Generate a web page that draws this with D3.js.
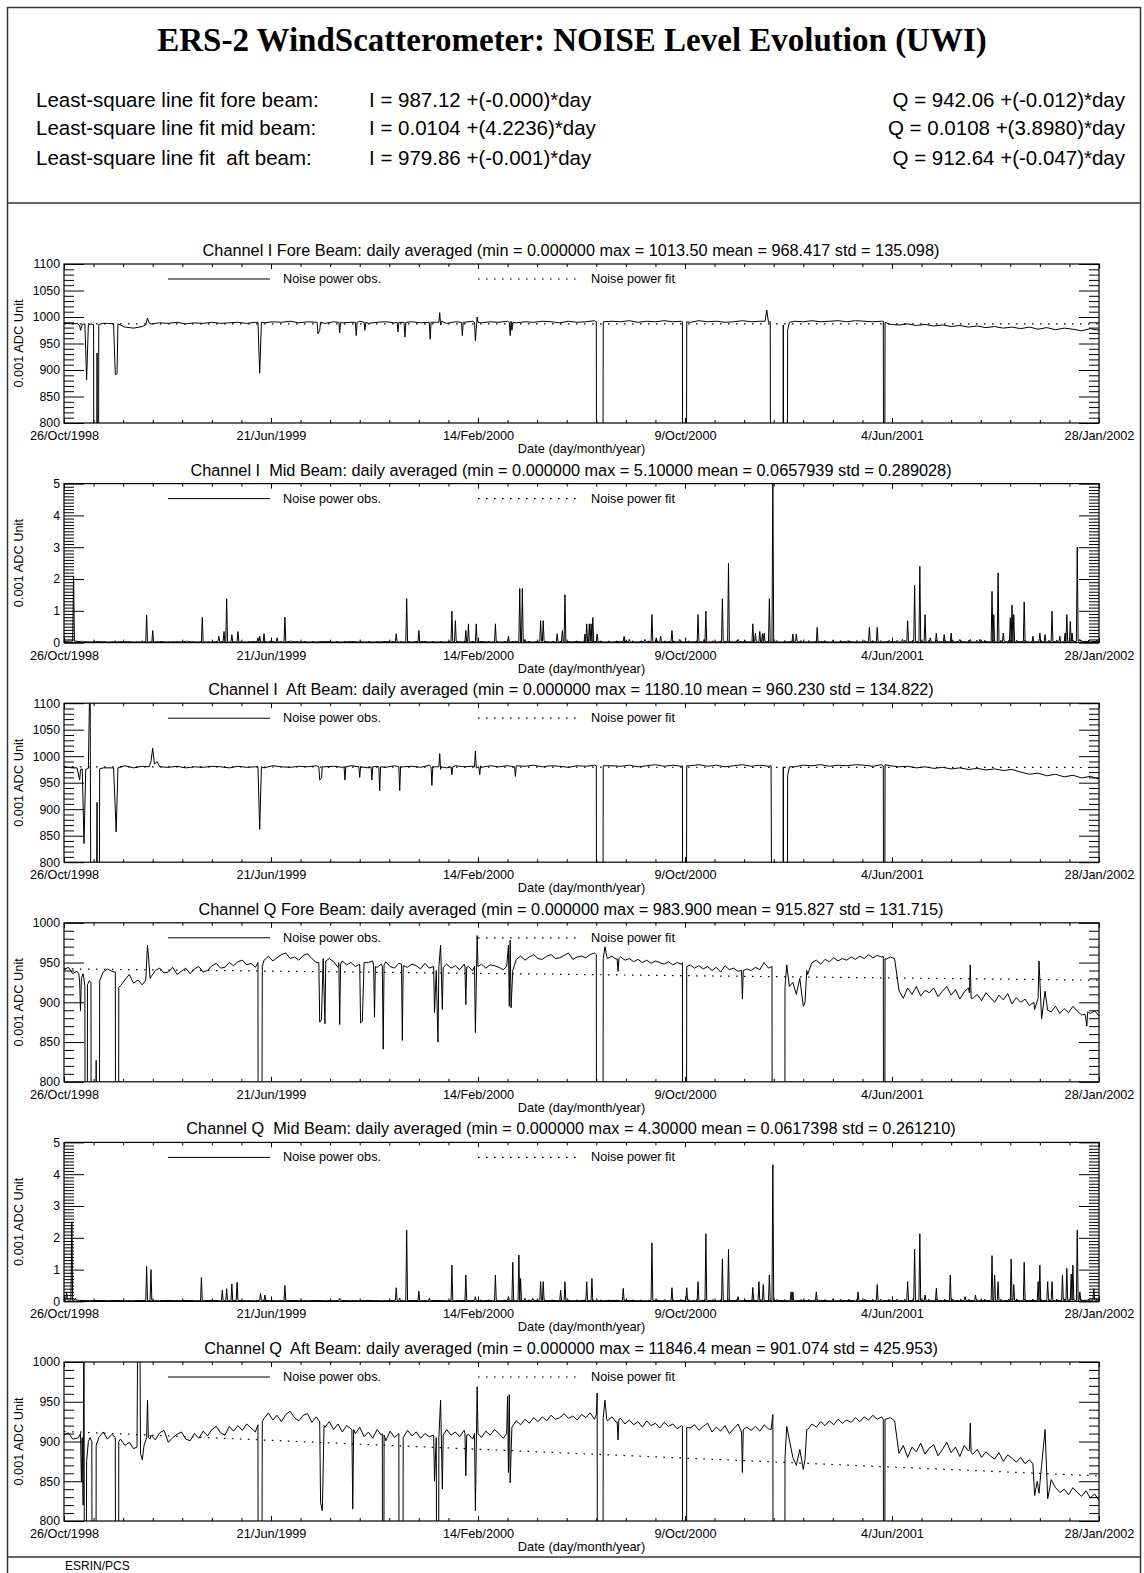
<!DOCTYPE html>
<html><head><meta charset="utf-8">
<script src="https://cdn.jsdelivr.net/npm/d3@7"></script>
<style>
body{margin:0;background:#fff}
svg{display:block}
text{font-family:"Liberation Sans",Arial,Helvetica,sans-serif;fill:#000}
</style></head>
<body><svg id="c" width="1144" height="1573"></svg>
<script>
// ---------------- DATA ----------------
const mainTitle = "ERS-2 WindScatterometer: NOISE Level Evolution (UWI)";
const fitLabels = ["Least-square line fit fore beam:", "Least-square line fit mid beam:", "Least-square line fit  aft beam:"];
const iFitTexts = ["I = 987.12 +(-0.000)*day", "I = 0.0104 +(4.2236)*day", "I = 979.86 +(-0.001)*day"];
const qFitTexts = ["Q = 942.06 +(-0.012)*day", "Q = 0.0108 +(3.8980)*day", "Q = 912.64 +(-0.047)*day"];
const panelTitles = [
 "Channel I Fore Beam: daily averaged (min = 0.000000 max = 1013.50 mean = 968.417 std = 135.098)",
 "Channel I  Mid Beam: daily averaged (min = 0.000000 max = 5.10000 mean = 0.0657939 std = 0.289028)",
 "Channel I  Aft Beam: daily averaged (min = 0.000000 max = 1180.10 mean = 960.230 std = 134.822)",
 "Channel Q Fore Beam: daily averaged (min = 0.000000 max = 983.900 mean = 915.827 std = 131.715)",
 "Channel Q  Mid Beam: daily averaged (min = 0.000000 max = 4.30000 mean = 0.0617398 std = 0.261210)",
 "Channel Q  Aft Beam: daily averaged (min = 0.000000 max = 11846.4 mean = 901.074 std = 425.953)"
];
const xTickDays = [0, 238, 476, 714, 952, 1190];
const xTickLabels = ["26/Oct/1998", "21/Jun/1999", "14/Feb/2000", "9/Oct/2000", "4/Jun/2001", "28/Jan/2002"];
const xMinorStepDays = 34;
const yDomains = [[800, 1100], [0, 5], [800, 1100], [800, 1000], [0, 5], [800, 1000]];
const yMajorSteps = [50, 1, 50, 50, 1, 50];
const yMinorSteps = [10, 0.1, 10, 10, 0.1, 10];
const fitStart = [987.12, 0.0104, 979.86, 942.06, 0.0108, 912.64];
const fitEnd = [986.9, 0.061, 978.7, 927.8, 0.057, 856.7];

// I Fore: samples every 10 days
const iForeBase = [
 988,987,985,989,987,988,987,981,979,982,
 987,989,988,990,987,989,988,990,988,989,
 990,988,990,989,991,990,992,989,991,990,
 988,991,989,990,992,988,990,991,989,990,
 991,989,992,990,988,991,990,992,989,991,
 990,992,989,991,990,992,991,989,992,990,
 991,993,990,992,991,993,990,992,991,993,
 991,992,990,993,991,992,990,991,993,991,
 992,990,993,990,992,991,993,991,992,993,
 991,993,992,991,992,986,985,987,984,986,
 983,985,982,984,981,983,980,982,979,981,
 978,981,977,980,976,979,977,974,978,975];
const iForeEvents = [
 [[15,988],[18,984],[19,975],[21,986],[24,987],[26,881],[28,985],[31,987],[34,986],[35,0],[37,0],[38,932],[39,0],[40,986],[45,988]],
 [[57,987],[59,891],[61,893],[62,987]],
 [[94,985],[96,998],[98,988]],
 [[223,990],[225,894],[227,990]],
 [[291,990],[292,968],[294,975],[295,990]],
 [[316,990],[317,970],[318,990]],
 [[335,990],[336,965],[337,990]],
 [[345,990],[346,975],[347,990]],
 [[383,990],[384,972],[385,990]],
 [[391,990],[392,962],[393,990]],
 [[420,990],[421,958],[422,990]],
 [[431,990],[432,1008],[433,985],[434,992]],
 [[457,990],[458,965],[459,990]],
 [[472,990],[473,955],[475,1000],[476,990]],
 [[512,990],[513,965],[514,992],[515,975],[516,990]],
 [[612,991],[613,0],[619,0],[620,991]],
 [[711,991],[712,0],[715,0],[716,991]],
 [[806,992],[808,1013],[810,990],[812,991],[813,0],[826,0],[827,985],[828,0],[831,0],[832,975],[834,990]],
 [[942,992],[943,0],[944,990]]
];

// I Mid: baseline every 10 days + spikes [day, value]
const iMidBase = [
 0.04,0.05,0.03,0.02,0.03,0.02,0.02,0.03,0.02,0.02,
 0.02,0.03,0.02,0.02,0.03,0.02,0.02,0.02,0.03,0.02,
 0.02,0.02,0.03,0.02,0.02,0.02,0.03,0.02,0.02,0.02,
 0.03,0.02,0.02,0.03,0.02,0.02,0.02,0.03,0.02,0.02,
 0.02,0.03,0.02,0.02,0.02,0.03,0.02,0.02,0.03,0.02,
 0.02,0.02,0.03,0.02,0.02,0.03,0.02,0.02,0.02,0.03,
 0.02,0.03,0.02,0.02,0.03,0.02,0.02,0.03,0.02,0.02,
 0.03,0.02,0.02,0.03,0.02,0.02,0.03,0.02,0.03,0.02,
 0.02,0.03,0.02,0.02,0.03,0.02,0.02,0.03,0.02,0.02,
 0.03,0.02,0.02,0.03,0.02,0.03,0.02,0.02,0.03,0.02,
 0.02,0.03,0.02,0.03,0.02,0.02,0.03,0.02,0.03,0.02,
 0.03,0.02,0.03,0.02,0.03,0.02,0.03,0.04,0.03,0.04];
const iMidSpikes = [
 [11,2.08],[20,0.05],[59,0.06],[90,0.06],[95,0.87],[102,0.38],[126,0.05],[141,0.06],[159,0.79],
 [178,0.2],[184,0.35],[187,1.38],[193,0.25],[200,0.35],[223,0.15],[225,0.2],[230,0.28],[237,0.06],
 [245,0.15],[254,0.8],[261,0.06],[382,0.28],[394,1.38],[408,0.38],[446,0.99],[450,0.69],[462,0.38],
 [465,0.59],[474,0.59],[496,0.59],[511,0.2],[524,1.7],[527,1.7],[530,0.1],[548,0.69],[551,0.69],
 [567,0.28],[573,0.38],[576,1.51],[599,0.27],[601,0.59],[604,0.59],[606,0.59],[608,0.79],[613,0.27],
 [644,0.2],[650,0.1],[668,0.1],[676,0.88],[681,0.15],[686,0.2],[699,0.38],[708,0.1],[716,0.05],
 [729,0.88],[736,0.1],[738,0.99],[757,1.38],[764,2.5],[775,0.1],[792,0.59],[795,0.3],[800,0.35],
 [803,0.28],[805,0.3],[811,1.38],[815,5.1],[838,0.27],[842,0.27],[866,0.48],[884,0.05],[901,0.05],
 [926,0.48],[935,0.48],[949,0.06],[964,0.1],[970,0.69],[978,1.8],[984,2.4],[990,0.88],[996,0.15],
 [1003,0.3],[1012,0.25],[1020,0.3],[1030,0.1],[1042,0.1],[1053,0.1],[1067,1.61],[1069,0.88],
 [1074,2.19],[1080,0.3],[1088,0.78],[1090,1.18],[1092,0.88],[1104,1.28],[1114,0.2],[1122,0.3],
 [1128,0.25],[1136,0.99],[1145,0.2],[1151,0.3],[1153,0.88],[1157,0.67],[1159,0.3],[1165,3.0],
 [1168,0.1],[1180,0.05]];

// I Aft: samples every 10 days
const iAftBase = [
 980,978,977,981,979,978,980,982,978,981,
 990,980,979,981,978,980,979,981,980,978,
 981,979,980,978,982,980,979,981,980,982,
 980,981,979,982,980,978,981,979,982,980,
 981,979,983,980,978,982,980,981,979,982,
 980,982,979,981,983,980,982,981,979,982,
 981,983,980,982,981,983,980,982,984,981,
 983,981,982,984,981,983,980,982,984,981,
 983,981,984,982,980,983,982,984,981,983,
 982,984,983,981,984,982,980,981,978,980,
 977,979,976,978,975,977,974,976,973,975,
 970,966,968,963,966,961,964,959,962,957];
const iAftEvents = [
 [[15,978],[18,955],[19,975],[21,976],[23,835],[25,975],[28,977],[30,1180],[32,0],[35,0],[38,913],[40,0],[41,976],[45,978]],
 [[57,978],[60,857],[62,978]],
 [[98,980],[100,990],[102,1015],[104,985],[107,990],[110,980]],
 [[223,980],[225,862],[227,980]],
 [[293,980],[294,955],[296,958],[297,980]],
 [[322,980],[323,955],[324,980]],
 [[339,980],[340,960],[341,980]],
 [[353,980],[354,955],[355,980]],
 [[362,980],[363,935],[364,980]],
 [[385,980],[386,935],[387,980]],
 [[422,980],[423,945],[424,980]],
 [[431,980],[432,1005],[433,975],[434,980]],
 [[445,980],[446,965],[447,980]],
 [[472,980],[473,1010],[474,978],[477,980],[478,965],[479,982]],
 [[518,980],[519,962],[520,982]],
 [[612,982],[613,0],[619,0],[620,982]],
 [[711,982],[712,0],[715,0],[716,982]],
 [[813,982],[815,0],[826,0],[827,980],[828,0],[831,0],[832,963],[834,980]],
 [[942,982],[943,0],[944,984]]
];

// Q Fore: samples every 5 days
const qForeBase = [
 941,944,936,939,935,930,925,932,927,938,
 942,939,936,921,928,935,924,928,922,927,
 932,940,943,937,938,944,935,939,943,936,
 942,945,938,940,946,949,943,944,950,946,
 951,953,947,949,944,950,953,958,952,956,
 960,962,955,957,953,959,961,955,950,954,
 948,955,951,944,952,947,950,945,949,946,
 950,952,944,948,951,945,943,949,950,944,
 948,946,942,949,943,947,940,944,948,943,
 946,941,948,945,940,944,948,943,947,946,
 944,941,947,950,954,958,953,957,960,955,
 954,958,960,955,956,959,962,954,957,958,
 956,960,962,956,960,955,958,954,957,953,
 955,951,954,950,953,949,952,950,948,951,
 947,950,948,944,947,943,946,942,945,940,
 944,938,946,941,943,939,947,942,940,944,
 941,950,943,955,944,938,926,925,918,910,
 902,935,950,953,948,954,951,956,952,955,
 953,957,954,958,955,960,956,959,957,954,
 957,955,915,905,918,910,920,908,915,912,
 918,907,914,920,909,916,904,913,918,905,
 910,902,912,906,900,909,903,911,898,906,
 900,904,896,902,897,905,893,888,895,886,
 892,887,895,889,884,891,886,889,883];
const qForeEvents = [
 [[17,936],[18,925],[19,889],[20,930],[22,936],[24,920],[25,0],[26,0],[27,922],[29,927],[31,925],[32,0],[36,0],[37,827],[38,0],[40,0],[41,927]],
 [[59,938],[60,0],[62,0],[63,919]],
 [[94,928],[96,972],[97,960],[99,930]],
 [[223,950],[224,0],[226,0],[228,945]],
 [[293,950],[294,875],[296,878],[298,955],[300,873],[301,952]],
 [[316,950],[317,872],[318,948]],
 [[340,948],[341,874],[343,876],[345,950]],
 [[356,945],[357,881],[358,945]],
 [[366,945],[367,841],[368,947]],
 [[388,948],[389,852],[390,946]],
 [[425,945],[426,887],[428,940],[430,850],[431,945],[433,972],[435,891],[436,944]],
 [[461,945],[462,897],[463,944]],
 [[472,945],[473,862],[475,984],[476,945]],
 [[509,945],[511,972],[512,895],[513,978],[514,893],[516,940]],
 [[612,960],[613,0],[619,0],[620,955],[622,970],[624,958]],
 [[636,955],[637,939],[638,955]],
 [[711,950],[712,0],[715,0],[716,945]],
 [[779,940],[780,904],[781,940]],
 [[814,945],[815,0],[828,0],[829,920],[831,947],[834,920],[838,925],[842,910],[846,930],[850,895],[852,900],[854,940]],
 [[942,958],[943,0],[944,955]],
 [[1041,912],[1042,947],[1043,905]],
 [[1115,900],[1116,891],[1120,905],[1121,952],[1124,879],[1128,914],[1131,890]],
 [[1174,885],[1176,870],[1177,888]]
];

// Q Mid: baseline every 10 days + spikes
const qMidBase = [
 0.05,0.04,0.03,0.02,0.03,0.02,0.03,0.02,0.02,0.03,
 0.02,0.02,0.03,0.02,0.03,0.02,0.02,0.03,0.02,0.02,
 0.03,0.02,0.02,0.03,0.02,0.02,0.03,0.02,0.02,0.03,
 0.02,0.02,0.03,0.02,0.02,0.03,0.02,0.02,0.03,0.02,
 0.03,0.02,0.02,0.03,0.02,0.02,0.03,0.02,0.02,0.03,
 0.02,0.03,0.02,0.02,0.03,0.02,0.03,0.02,0.02,0.02,
 0.03,0.02,0.02,0.03,0.02,0.03,0.02,0.02,0.03,0.02,
 0.02,0.03,0.02,0.02,0.03,0.02,0.02,0.03,0.02,0.03,
 0.02,0.02,0.03,0.02,0.02,0.03,0.02,0.03,0.02,0.02,
 0.03,0.02,0.03,0.02,0.02,0.03,0.02,0.02,0.03,0.02,
 0.02,0.03,0.02,0.02,0.03,0.02,0.03,0.02,0.02,0.03,
 0.02,0.03,0.02,0.03,0.02,0.03,0.04,0.03,0.04,0.05];
const qMidSpikes = [
 [3,0.3],[9,2.5],[13,0.1],[95,1.1],[100,1.0],[158,0.75],[182,0.35],[187,0.4],[193,0.55],[199,0.6],
 [226,0.25],[231,0.2],[254,0.5],[317,0.1],[382,0.43],[386,0.1],[394,2.24],[408,0.32],[420,0.1],
 [446,1.14],[462,0.83],[473,0.15],[496,0.83],[511,0.15],[516,1.23],[523,1.46],[525,0.72],[530,0.1],
 [539,0.1],[548,0.62],[551,0.62],[571,0.35],[576,0.62],[601,0.62],[607,0.72],[643,0.41],[676,1.84],
 [699,0.43],[716,0.43],[729,0.62],[738,2.13],[757,1.33],[764,1.64],[775,0.15],[792,0.44],[799,0.62],
 [804,0.53],[811,0.83],[815,4.3],[836,0.3],[838,0.3],[865,0.3],[913,0.3],[935,0.53],[970,0.62],
 [978,1.64],[984,2.13],[990,0.2],[1003,0.41],[1019,0.83],[1036,0.15],[1048,0.2],[1067,1.44],
 [1070,0.83],[1074,0.62],[1089,1.33],[1092,0.53],[1104,1.23],[1120,0.62],[1122,1.14],[1131,0.62],
 [1136,0.62],[1148,0.83],[1153,1.04],[1158,0.86],[1160,1.14],[1165,2.24],[1168,0.3],[1184,0.4]];

// Q Aft: samples every 5 days
const qAftBase = [
 908,911,903,904,897,905,900,895,902,912,
 903,909,898,903,895,899,891,887,885,893,
 908,902,911,914,899,905,909,912,903,901,
 910,904,913,907,915,919,911,908,919,913,
 920,914,922,917,912,921,929,936,927,933,
 925,934,938,930,926,933,935,924,931,922,
 918,925,915,922,912,920,916,910,918,906,
 912,904,915,908,901,913,905,910,903,914,
 907,912,904,910,906,913,902,909,915,908,
 912,906,914,909,903,911,905,913,908,915,
 910,904,913,918,926,921,928,923,930,925,
 931,926,933,928,930,935,929,932,927,934,
 930,936,928,932,935,926,931,924,929,922,
 927,921,925,918,926,920,923,917,924,919,
 922,916,920,925,917,921,914,919,923,912,
 918,913,920,910,916,922,912,918,914,919,
 913,921,916,925,918,910,905,890,880,872,
 868,915,922,918,925,920,926,921,928,923,
 927,924,930,925,931,927,933,928,931,928,
 930,926,885,895,880,893,887,898,884,892,
 896,882,890,899,886,893,881,895,888,884,
 890,880,887,882,878,886,875,883,879,874,
 880,872,877,869,874,866,860,852,842,836,
 840,833,842,836,831,838,829,834,826];
const qAftEvents = [
 [[17,905],[19,910],[20,850],[21,905],[22,820],[23,1100],[24,0],[26,875],[28,900],[30,905],[32,900],[33,0],[36,0],[37,895],[40,905]],
 [[59,905],[60,0],[62,0],[63,900]],
 [[84,893],[85,1100],[87,1100],[88,885],[90,877],[92,895],[95,905],[96,952],[97,905],[99,903]],
 [[223,921],[224,0],[226,0],[228,925]],
 [[294,925],[295,823],[297,813],[299,920]],
 [[331,915],[332,815],[333,915]],
 [[366,910],[367,0],[368,908]],
 [[385,910],[386,0],[389,0],[390,905]],
 [[425,908],[426,850],[428,905],[430,0],[431,905],[433,952],[435,840],[436,908]],
 [[461,910],[462,857],[463,908]],
 [[472,910],[473,813],[475,969],[476,910]],
 [[509,910],[510,957],[511,861],[512,959],[513,848],[515,918]],
 [[612,934],[613,961],[614,0],[619,0],[620,930],[622,952],[624,928]],
 [[636,925],[637,902],[638,928]],
 [[711,919],[712,0],[715,0],[716,918]],
 [[779,912],[780,861],[781,915]],
 [[813,915],[815,934],[816,0],[828,0],[829,880],[831,919],[834,902],[838,880],[842,870],[846,890],[850,865],[852,878],[854,915]],
 [[942,928],[943,0],[944,928]],
 [[1041,890],[1042,923],[1043,886]],
 [[1114,872],[1116,832],[1119,850],[1121,835],[1124,870],[1128,915],[1131,828],[1134,845]]
];

// ---------------- BUILD ----------------
function merge(step, base, groups) {
  const ranges = groups.map(g => [g[0][0], g[g.length - 1][0]]);
  const pts = [];
  base.forEach((v, i) => {
    const d = i * step;
    if (!ranges.some(r => d >= r[0] && d <= r[1])) pts.push([d, v]);
  });
  groups.forEach(g => g.forEach(p => pts.push(p)));
  pts.sort((a, b) => a[0] - b[0]);
  return pts;
}
function spikeGroups(step, base, spikes) {
  return spikes.map(([d, v]) => {
    const b = base[Math.min(base.length - 1, Math.round(d / step))];
    return [[d - 1, b], [d, v], [d + 1, b]];
  });
}
const seriesList = [
  merge(10, iForeBase, iForeEvents),
  merge(10, iMidBase, spikeGroups(10, iMidBase, iMidSpikes)),
  merge(10, iAftBase, iAftEvents),
  merge(5, qForeBase, qForeEvents),
  merge(10, qMidBase, spikeGroups(10, qMidBase, qMidSpikes)),
  merge(5, qAftBase, qAftEvents)
];

// ---------------- DRAW ----------------
const svg = d3.select("#c");
const PL = 64, PR = 1099, PH = 159, TOP0 = 264, PSTEP = 219.6;
const x = d3.scaleLinear().domain([0, 1190]).range([PL, PR]);

svg.append("rect").attr("x", 7.5).attr("y", 7.5).attr("width", 1133).attr("height", 1580)
  .attr("fill", "none").attr("stroke", "#333").attr("stroke-width", 1.5);
svg.append("line").attr("x1", 7).attr("x2", 1141).attr("y1", 203).attr("y2", 203).attr("stroke", "#333").attr("stroke-width", 1.5);
svg.append("line").attr("x1", 7).attr("x2", 1141).attr("y1", 1557).attr("y2", 1557).attr("stroke", "#333").attr("stroke-width", 1.5);

svg.append("text").attr("x", 572).attr("y", 51).attr("text-anchor", "middle")
  .style("font-family", '"Liberation Serif","Times New Roman",Times,serif').style("font-weight", "bold")
  .style("font-size", "33px").text(mainTitle);

const rowY = [107, 135, 165];
fitLabels.forEach((t, i) => {
  svg.append("text").attr("x", 36).attr("y", rowY[i]).style("font-size", "20.5px").style("white-space", "pre").text(t);
  svg.append("text").attr("x", 369).attr("y", rowY[i]).style("font-size", "20.5px").text(iFitTexts[i]);
  svg.append("text").attr("x", 1125).attr("y", rowY[i]).attr("text-anchor", "end").style("font-size", "20.5px").text(qFitTexts[i]);
});

svg.append("text").attr("x", 65).attr("y", 1570).style("font-size", "12px").text("ESRIN/PCS");

const xMinor = d3.range(0, 1190, xMinorStepDays).filter(d => d % 238 !== 0);
const line = d3.line().x(d => x(d[0]));

seriesList.forEach((data, i) => {
  const T = TOP0 + i * PSTEP, B = T + PH;
  const [lo, hi] = yDomains[i];
  const y = d3.scaleLinear().domain([lo, hi]).range([B, T]);
  const g = svg.append("g");
  const majors = d3.range(lo, hi + 1e-6, yMajorSteps[i]);
  const minors = d3.range(0, Math.round((hi - lo) / yMinorSteps[i]) + 1)
    .map(k => lo + k * yMinorSteps[i])
    .filter(v => !majors.some(m => Math.abs(m - v) < 1e-6));

  g.append("clipPath").attr("id", "clip" + i).append("rect")
    .attr("x", PL).attr("y", T).attr("width", PR - PL).attr("height", PH);

  // title
  g.append("text").attr("x", 571).attr("y", T - 8).attr("text-anchor", "middle")
    .style("font-size", "16.3px").style("white-space", "pre").text(panelTitles[i]);

  // fit
  line.y(d => y(d[1]));
  g.append("path").datum([[0, fitStart[i]], [1190, fitEnd[i]]]).attr("d", line)
    .attr("clip-path", "url(#clip" + i + ")")
    .attr("fill", "none").attr("stroke", "#000").attr("stroke-width", 1.2).attr("stroke-dasharray", "1.6,6.4");
  // data
  g.append("path").datum(data).attr("d", line)
    .attr("clip-path", "url(#clip" + i + ")")
    .attr("fill", "none").attr("stroke", "#000").attr("stroke-width", 1).attr("stroke-linejoin", "round");

  const fmt = d3.format("d");
  function styleAxis(sel, fs) {
    sel.select(".domain").remove();
    sel.selectAll("line").attr("stroke", "#000").attr("stroke-width", 1);
    sel.selectAll("text").style("font-size", fs || "13px").attr("fill", "#000");
    sel.attr("font-family", null).attr("font-size", null);
  }
  g.append("g").attr("transform", `translate(${PL},0)`)
    .call(d3.axisLeft(y).tickValues(majors).tickSize(-20).tickSizeOuter(0).tickPadding(4).tickFormat(d => fmt(Math.round(d))))
    .call(s => styleAxis(s, "12.3px"));
  g.append("g").attr("transform", `translate(${PL},0)`)
    .call(d3.axisLeft(y).tickValues(minors).tickSize(-10).tickSizeOuter(0).tickFormat("")).call(styleAxis);
  g.append("g").attr("transform", `translate(${PR},0)`)
    .call(d3.axisRight(y).tickValues(majors).tickSize(-20).tickSizeOuter(0).tickFormat("")).call(styleAxis);
  g.append("g").attr("transform", `translate(${PR},0)`)
    .call(d3.axisRight(y).tickValues(minors).tickSize(-10).tickSizeOuter(0).tickFormat("")).call(styleAxis);
  g.append("g").attr("transform", `translate(0,${B})`)
    .call(d3.axisBottom(x).tickValues(xTickDays).tickSize(-5).tickSizeOuter(0).tickPadding(8)
      .tickFormat((d, k) => xTickLabels[k])).call(s => styleAxis(s, "12.7px"));
  g.append("g").attr("transform", `translate(0,${B})`)
    .call(d3.axisBottom(x).tickValues(xMinor).tickSize(-3).tickSizeOuter(0).tickFormat("")).call(styleAxis);
  g.append("g").attr("transform", `translate(0,${T})`)
    .call(d3.axisTop(x).tickValues(xTickDays).tickSize(-5).tickSizeOuter(0).tickFormat("")).call(styleAxis);
  g.append("g").attr("transform", `translate(0,${T})`)
    .call(d3.axisTop(x).tickValues(xMinor).tickSize(-3).tickSizeOuter(0).tickFormat("")).call(styleAxis);

  g.append("rect").attr("x", PL).attr("y", T).attr("width", PR - PL).attr("height", PH)
    .attr("fill", "none").attr("stroke", "#000").attr("stroke-width", 1.2);

  // axis titles
  g.append("text").attr("x", PL + (PR - PL) / 2).attr("y", B + 30).attr("text-anchor", "middle")
    .style("font-size", "12.8px").text("Date (day/month/year)");
  g.append("text").attr("transform", `translate(23,${(T + B) / 2}) rotate(-90)`).attr("text-anchor", "middle")
    .style("font-size", "12.8px").text("0.001 ADC Unit");

  // legend
  g.append("line").attr("x1", 168).attr("x2", 270).attr("y1", T + 15).attr("y2", T + 15).attr("stroke", "#000").attr("stroke-width", 1);
  g.append("text").attr("x", 283).attr("y", T + 19).style("font-size", "12.7px").text("Noise power obs.");
  g.append("line").attr("x1", 478).attr("x2", 578).attr("y1", T + 15).attr("y2", T + 15).attr("stroke", "#000")
    .attr("stroke-width", 1.2).attr("stroke-dasharray", "1.6,6.4");
  g.append("text").attr("x", 591).attr("y", T + 19).style("font-size", "12.7px").text("Noise power fit");
});
</script>
</body></html>
